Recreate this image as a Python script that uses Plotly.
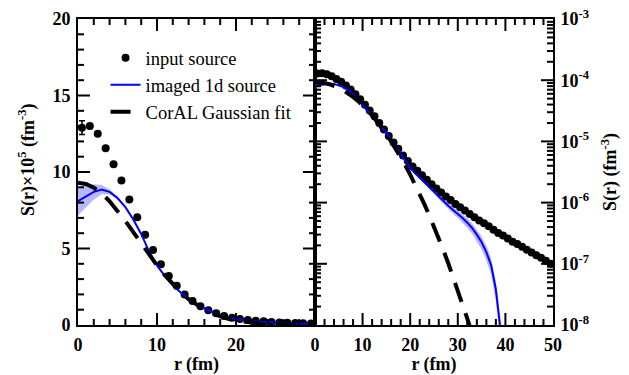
import plotly.graph_objects as go

# ---------------- data ----------------
# input source: r in fm, S(r) in fm^-3
r_input = [0.5, 1.5, 2.5, 3.5, 4.5, 5.5, 6.5, 7.5, 8.5, 9.5,
           10.5, 11.5, 12.5, 13.5, 14.5, 15.5, 16.5, 17.5, 18.5, 19.5,
           20.5, 21.5, 22.5, 23.5, 24.5, 25.5, 26.5, 27.5, 28.5, 29.5,
           30.5, 31.5, 32.5, 33.5, 34.5, 35.5, 36.5, 37.5, 38.5, 39.5,
           40.5, 41.5, 42.5, 43.5, 44.5, 45.5, 46.5, 47.5, 48.5, 49.5]
S_input = [1.29e-4, 1.30e-4, 1.25e-4, 1.155e-4, 1.05e-4, 9.45e-5, 8.2e-5, 7.05e-5, 5.9e-5, 4.9e-5,
           3.97e-5, 3.2e-5, 2.57e-5, 2.0e-5, 1.57e-5, 1.22e-5, 9.6e-6, 7.6e-6, 5.9e-6, 4.8e-6,
           3.9e-6, 3.3e-6, 2.8e-6, 2.37e-6, 2.0e-6, 1.7e-6, 1.46e-6, 1.26e-6, 1.1e-6, 9.5e-7,
           8.4e-7, 7.4e-7, 6.5e-7, 5.75e-7, 5.1e-7, 4.6e-7, 4.1e-7, 3.6e-7, 3.2e-7, 2.9e-7,
           2.6e-7, 2.3e-7, 2.1e-7, 1.9e-7, 1.7e-7, 1.53e-7, 1.38e-7, 1.25e-7, 1.12e-7, 1.0e-7]
err_input = [4.5e-6, 1.5e-6, 1.0e-6] + [0.0] * 47

# imaged 1d source with its uncertainty
r_img = [0, 1, 2, 3, 4, 5, 6, 7, 8, 9,
         10, 11, 12, 13, 14, 15, 16, 17, 18, 19,
         20, 21, 22, 23, 24, 25, 26, 27, 28, 29,
         30, 31, 32, 33, 34, 35, 36, 37, 38, 38.5, 39]
S_img = [8.1e-5, 8.4e-5, 8.7e-5, 8.85e-5, 8.7e-5, 8.3e-5, 7.7e-5, 6.9e-5, 5.95e-5, 4.8e-5,
         3.9e-5, 3.2e-5, 2.6e-5, 2.12e-5, 1.72e-5, 1.38e-5, 1.08e-5, 8.4e-6, 6.4e-6, 4.8e-6,
         3.7e-6, 3.05e-6, 2.55e-6, 2.15e-6, 1.8e-6, 1.52e-6, 1.27e-6, 1.06e-6, 8.9e-7, 7.6e-7,
         6.6e-7, 5.6e-7, 4.7e-7, 3.85e-7, 3.0e-7, 2.25e-7, 1.55e-7, 9.5e-8, 3.8e-8, 1.9e-8, 8e-9]
err_img = [9.5e-6, 7.5e-6, 5.0e-6, 3.0e-6, 1.5e-6, 8e-7, 6e-7, 5e-7, 5e-7, 4e-7,
           3e-7, 2.5e-7, 2e-7, 1.5e-7, 1.2e-7, 2.8e-7, 2.2e-7, 1.8e-7, 1.4e-7, 1.2e-7,
           1.2e-7, 1.2e-7, 1.2e-7, 1.2e-7, 1.2e-7, 1.2e-7, 1.2e-7, 1.15e-7, 1.1e-7, 1.05e-7,
           1.0e-7, 9.2e-8, 8.5e-8, 7.5e-8, 6.5e-8, 5.4e-8, 4.2e-8, 2.8e-8, 1.3e-8, 7e-9, 3e-9]

# CorAL Gaussian fit
r_fit = [0, 1, 2, 3, 4, 5, 6, 7, 8, 9, 10, 11, 12, 13, 14, 15, 16,
         17, 18, 19, 20, 21, 22, 23, 24, 25, 26, 27, 28, 29, 30, 31, 32, 33]
S_fit = [9.30e-5, 9.22e-5, 8.98e-5, 8.60e-5, 8.09e-5, 7.48e-5, 6.80e-5, 6.07e-5, 5.33e-5,
         4.60e-5, 3.90e-5, 3.25e-5, 2.66e-5, 2.14e-5, 1.69e-5, 1.31e-5, 1.00e-5,
         7.53e-6, 5.56e-6, 4.03e-6, 2.87e-6, 2.01e-6, 1.38e-6, 9.35e-7, 6.21e-7,
         4.06e-7, 2.6e-7, 1.64e-7, 1.02e-7, 6.2e-8, 3.72e-8, 2.18e-8, 1.27e-8, 7.2e-9]

legend_names = ["input source", "imaged 1d source", "CorAL Gaussian fit"]
log_tick_vals = [1e-8, 1e-7, 1e-6, 1e-5, 1e-4, 1e-3]
log_tick_text = ["10<sup>-8</sup>", "10<sup>-7</sup>", "10<sup>-6</sup>",
                 "10<sup>-5</sup>", "10<sup>-4</sup>", "10<sup>-3</sup>"]

# ---------------- layout constants ----------------
SCALE = 1e5
FONT = "Liberation Serif, Times New Roman, Times, serif"
BAND = "rgba(95,95,255,0.45)"
W, H = 629, 375
ML, MR, MT, MB = 78, 76, 19, 50
SPLIT = 0.4989
X1_RANGE, X2_RANGE, Y1_RANGE, Y2_LOGRANGE = [0, 30], [0, 50], [0, 20], [-8, -3]

fig = go.Figure()

for xa, ya, scale, show in (("x", "y", SCALE, True), ("x2", "y2", 1.0, False)):
    up = [(s + e) * scale for s, e in zip(S_img, err_img)]
    lo = [(s - e) * scale for s, e in zip(S_img, err_img)]
    fig.add_trace(go.Scatter(x=r_img + r_img[::-1], y=up + lo[::-1], fill="toself",
                             fillcolor=BAND, line=dict(width=0), mode="lines",
                             xaxis=xa, yaxis=ya, showlegend=False, hoverinfo="skip"))
    fig.add_trace(go.Scatter(x=r_input, y=[v * scale for v in S_input], mode="markers",
                             marker=dict(color="black", size=8),
                             error_y=dict(type="data", array=[e * scale for e in err_input],
                                          color="black", thickness=1.5, width=3),
                             name=legend_names[0], legendgroup="a", showlegend=show,
                             xaxis=xa, yaxis=ya))
    fig.add_trace(go.Scatter(x=r_img, y=[v * scale for v in S_img], mode="lines",
                             line=dict(color="#0000ff", width=2),
                             name=legend_names[1], legendgroup="b", showlegend=show,
                             xaxis=xa, yaxis=ya))
    fig.add_trace(go.Scatter(x=r_fit, y=[v * scale for v in S_fit], mode="lines",
                             line=dict(color="black", width=4, dash="20px,12px"),
                             name=legend_names[2], legendgroup="c", showlegend=show,
                             xaxis=xa, yaxis=ya))

# ---- inward tick marks on all four sides of both panels ----
plot_w = W - ML - MR
plot_h = H - MT - MB
pw1, pw2 = plot_w * SPLIT, plot_w * (1 - SPLIT)
MAJ, MIN = 12, 6


def tick_trace(xs, ys, xa, ya):
    return go.Scatter(x=xs, y=ys, mode="lines", xaxis=xa, yaxis=ya,
                      line=dict(color="black", width=2, simplify=False),
                      showlegend=False, hoverinfo="skip")


# left panel (linear / linear)
xs, ys = [], []
ypx = (Y1_RANGE[1] - Y1_RANGE[0]) / plot_h
for v in range(2, 30, 2):
    L = (MAJ if v % 10 == 0 else MIN) * ypx
    xs += [v, v, None, v, v, None]
    ys += [Y1_RANGE[0], Y1_RANGE[0] + L, None, Y1_RANGE[1], Y1_RANGE[1] - L, None]
xpx = (X1_RANGE[1] - X1_RANGE[0]) / pw1
for v in range(1, 20):
    L = (MAJ if v % 5 == 0 else MIN) * xpx
    xs += [X1_RANGE[0], X1_RANGE[0] + L, None, X1_RANGE[1], X1_RANGE[1] - L, None]
    ys += [v, v, None, v, v, None]
fig.add_trace(tick_trace(xs, ys, "x", "y"))

# right panel (linear / log)
xs, ys = [], []
dec_px = (Y2_LOGRANGE[1] - Y2_LOGRANGE[0]) / plot_h
ybot, ytop = 10.0 ** Y2_LOGRANGE[0], 10.0 ** Y2_LOGRANGE[1]
for v in range(2, 50, 2):
    L = (MAJ if v % 10 == 0 else MIN) * dec_px
    xs += [v, v, None, v, v, None]
    ys += [ybot, ybot * 10 ** L, None, ytop, ytop / 10 ** L, None]
xpx = (X2_RANGE[1] - X2_RANGE[0]) / pw2
for e in range(Y2_LOGRANGE[0], Y2_LOGRANGE[1]):
    for k in range(1, 10):
        if e == Y2_LOGRANGE[0] and k == 1:
            continue
        val = k * 10.0 ** e
        L = (MAJ if k == 1 else MIN) * xpx
        xs += [X2_RANGE[0], X2_RANGE[0] + L, None, X2_RANGE[1], X2_RANGE[1] - L, None]
        ys += [val, val, None, val, val, None]
fig.add_trace(tick_trace(xs, ys, "x2", "y2"))

tickfont = dict(family=FONT, size=18, color="black", weight="bold")
common = dict(showline=True, linecolor="black", linewidth=2, mirror=True,
              ticks="", showgrid=False, zeroline=False, tickfont=tickfont,
              automargin=False, ticklabelstandoff=2)

fig.update_layout(
    template="none",
    width=W, height=H,
    margin=dict(l=ML, r=MR, t=MT, b=MB, autoexpand=False),
    paper_bgcolor="white", plot_bgcolor="white",
    font=dict(family=FONT, color="black"),
    xaxis=dict(common, domain=[0, SPLIT], range=X1_RANGE, tickvals=[0, 10, 20], anchor="y",
               title=dict(text="r (fm)", font=tickfont, standoff=9)),
    xaxis2=dict(common, domain=[SPLIT, 1], range=X2_RANGE, tick0=0, dtick=10, anchor="y2",
                title=dict(text="r (fm)", font=tickfont, standoff=9)),
    yaxis=dict(common, domain=[0, 1], range=Y1_RANGE, tick0=0, dtick=5, anchor="x"),
    yaxis2=dict(common, domain=[0, 1], type="log", range=Y2_LOGRANGE, side="right",
                tickvals=log_tick_vals, ticktext=log_tick_text, anchor="x2",
                title=dict(text="S(r) (fm<sup>-3</sup>)", font=tickfont, standoff=15)),
    annotations=[dict(text="S(r)×10<sup>5</sup> (fm<sup>-3</sup>)", textangle=-90,
                      xref="paper", yref="paper", x=-0.107, y=0.54,
                      xanchor="center", yanchor="middle", showarrow=False, font=tickfont)],
    legend=dict(x=0.058, y=0.934, xanchor="left", yanchor="top",
                bgcolor="rgba(0,0,0,0)", borderwidth=0,
                font=dict(family=FONT, size=18.5, color="black"),
                tracegroupgap=0, itemwidth=30),
    showlegend=True,
)

fig.write_html("out.html")
